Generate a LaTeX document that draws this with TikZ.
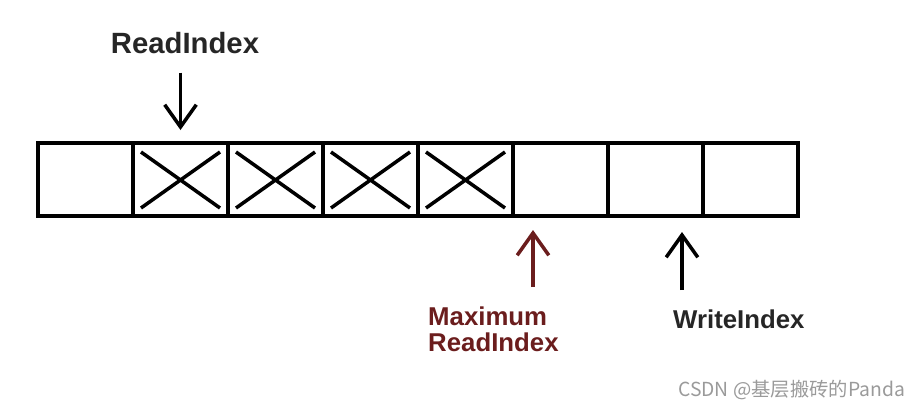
\documentclass[tikz,border=0pt]{standalone}
\usepackage{fontspec}
\setmainfont{Liberation Sans}
\newfontfamily\cjkfont{Noto Sans CJK SC}
\usepackage{tikz}
\usetikzlibrary{arrows.meta,calc,positioning}
\definecolor{maxred}{HTML}{6B1D1D}
\definecolor{markgray}{HTML}{9A9A9A}
\tikzset{
  cell/.style={draw,line width=4pt,minimum width=2.85cm,minimum height=2.19cm,inner sep=0pt,outer sep=0pt},
  crossmark/.style={line width=3pt},
  pointer/.style={-{Straight Barb[length=19pt,width=27pt]},line width=3pt},
  idxtext/.style={font=\fontsize{22pt}{22pt}\selectfont\bfseries,inner sep=0pt,text=black!85}
}
\begin{document}
\begin{tikzpicture}[x=0.03cm,y=-0.03cm]
\useasboundingbox (0,0) rectangle (918,408);
\foreach \i in {1,...,8}{
  \node[cell] (c\i) at ({85.5+95*(\i-1)},179.5) {};
}
\foreach \i in {2,...,5}{
  \draw[crossmark] ([shift={(8,9)}]c\i.north west) -- ([shift={(-8,-8)}]c\i.south east);
  \draw[crossmark] ([shift={(8,-8)}]c\i.south west) -- ([shift={(-8,9)}]c\i.north east);
}
\node[idxtext,font=\fontsize{25pt}{25pt}\selectfont\bfseries,anchor=base] (ri) at (185,53) {ReadIndex};
\draw[pointer,shorten <=0.57cm,shorten >=0.39cm] (ri.south -| c2.north) -- (c2.north);
\node[idxtext,text=maxred,align=left,anchor=north west] (mri) at (428,307) {Maximum\\ReadIndex};
\coordinate (mtail) at (533,287);
\draw[pointer,color=maxred,shorten >=0.42cm] (mtail) -- (mtail |- c6.south);
\node[idxtext,anchor=base west] (wi) at (673,328) {WriteIndex};
\coordinate (wtail) at (682,290);
\draw[pointer,shorten >=0.48cm] (wtail) -- (wtail |- c7.south);
\node[anchor=base west,text=markgray,font=\cjkfont\fontsize{16.5pt}{16.5pt}\selectfont,inner sep=0pt] (mark) at (678,396) {CSDN @基层搬砖的Panda};
\end{tikzpicture}
\end{document}
